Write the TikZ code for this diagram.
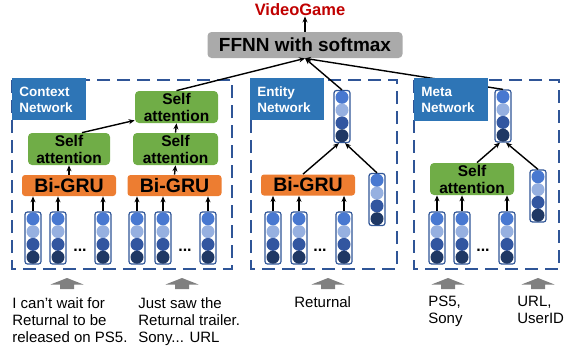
\documentclass[tikz,border=0pt]{standalone}
\usepackage{fontspec}
\setmainfont{Liberation Sans}
\usetikzlibrary{arrows.meta}

\definecolor{netblue}{RGB}{47,85,151}
\definecolor{labelblue}{RGB}{46,117,182}
\definecolor{gruorange}{RGB}{237,125,49}
\definecolor{attgreen}{RGB}{112,173,71}
\definecolor{ffnngray}{RGB}{170,170,170}
\definecolor{outred}{RGB}{192,0,0}
\definecolor{arrgray}{RGB}{128,128,128}
\definecolor{vtop}{RGB}{72,120,208}
\definecolor{vlight}{RGB}{150,176,224}
\definecolor{vmid}{RGB}{50,86,160}
\definecolor{vdark}{RGB}{31,56,100}

\tikzset{every picture/.style={line width=0.75pt}}
\tikzset{
  netbox/.style={draw=netblue, line width=2pt, dash pattern=on 13pt off 7pt},
  netlabel/.style={fill=labelblue, text=white, anchor=north west, align=left,
    font=\fontsize{13.5}{16}\selectfont\bfseries, text width=60pt,
    inner xsep=7pt, inner ysep=0pt, minimum height=42pt},
  grubox/.style={fill=gruorange, rounded corners=3pt, minimum width=94pt,
    minimum height=21pt, inner sep=0pt, font=\fontsize{19.5}{20}\selectfont\bfseries},
  attbox/.style={fill=attgreen, rounded corners=4pt, minimum width=83pt,
    minimum height=32pt, inner sep=0pt, align=center,
    font=\fontsize{15.5}{17}\selectfont\bfseries},
  vecbox/.style={draw=netblue, line width=1.2pt, fill=white, rounded corners=2.5pt,
    minimum width=16pt, minimum height=52pt, inner sep=0pt},
  dots/.style={font=\fontsize{16}{16}\selectfont\bfseries, inner sep=0pt},
  intext/.style={anchor=north west, align=left, inner sep=0pt,
    font=\fontsize{15}{17}\selectfont},
  arr/.style={-{Stealth[length=6pt,width=5pt]}, line width=1.4pt},
}

% embedding vector: name, x, y
\newcommand{\embvec}[3]{%
  \node[vecbox] (#1) at (#2,#3) {};
  \foreach \dy/\cc in {-19.2/vtop,-6.4/vlight,6.4/vmid,19.2/vdark}
    \fill[\cc] (#2,{#3+\dy}) circle (6.5pt);
}
% gray input arrow: name, x
\newcommand{\inarrow}[2]{%
  \coordinate (#1) at (#2,278);
  \fill[arrgray] (#1) -- ++(16.5,6.5) -- ++(-9.5,0) -- ++(0,4.5) -- ++(-14,0)
    -- ++(0,-4.5) -- ++(-9.5,0) -- cycle;
}

\begin{document}
\begin{tikzpicture}[x=1pt,y=-1pt]
\useasboundingbox (0,0) rectangle (580,351);

%Network frames
\draw[netbox] (12,80) rectangle (232,269);
\draw[netbox] (251,80) rectangle (397,269);
\draw[netbox] (414,80) rectangle (559,269);

%Output
\node[fill=ffnngray, rounded corners=4pt, minimum width=195pt, minimum height=26pt,
  inner sep=0pt, font=\fontsize{19}{20}\selectfont\bfseries] (ffnn) at (305,45) {FFNN with softmax};
\node[text=outred, inner sep=0pt, font=\fontsize{16.5}{18}\selectfont\bfseries] (vg) at (300,10) {VideoGame};
\draw[arr] (ffnn.north) -- (ffnn.north |- vg.south);

%Context network
\embvec{ca}{33}{238}
\embvec{cb}{58}{238}
\embvec{cc}{103}{238}
\embvec{cd}{137}{238}
\embvec{ce}{163}{238}
\embvec{cf}{208}{238}
\node[dots] (cdots1) at (80,250) {...};
\node[dots] (cdots2) at (185,250) {...};
\node[grubox] (gru1) at (69,185.5) {Bi-GRU};
\node[grubox] (gru2) at (174.5,185.5) {Bi-GRU};
\node[attbox, minimum width=82pt] (sa1) at (69,149) {Self\\attention};
\node[attbox, minimum width=85pt] (sa2) at (175.5,149) {Self\\attention};
\node[attbox] (sa3) at (176.5,107) {Self\\attention};
\foreach \v/\g in {ca/gru1,cb/gru1,cc/gru1,cd/gru2,ce/gru2,cf/gru2}
  \draw[arr] (\v.north) -- (\v.north |- \g.south);
\draw[arr] (gru1.north) -- (sa1.south);
\draw[arr] (gru2.north) -- (sa2.south);
\draw[arr] (sa2.north) -- (sa3.south);
\draw[arr] ([xshift=13pt]sa1.north) -- ([yshift=3pt]sa3.south west);

%Entity network
\embvec{ea}{273}{238}
\embvec{eb}{299}{238}
\embvec{ec}{344}{238}
\node[dots] (edots) at (320,250) {...};
\node[grubox] (gru3) at (308,185) {Bi-GRU};
\embvec{es}{377}{199.5}
\embvec{et}{342}{116.5}
\foreach \v in {ea,eb,ec}
  \draw[arr] (\v.north) -- (\v.north |- gru3.south);
\draw[arr] ([xshift=-5pt]gru3.north) -- ([xshift=-3pt]et.south);
\draw[arr] (es.north) -- ([xshift=3pt]et.south);

%Meta network
\embvec{ma}{437}{238}
\embvec{mb}{462}{238}
\embvec{mc}{507}{238}
\node[dots] (mdots) at (483,250) {...};
\node[attbox, minimum width=84pt] (sa4) at (472,179) {Self\\attention};
\embvec{ms}{538}{196}
\embvec{mt}{503}{116}
\foreach \v in {ma,mb,mc}
  \draw[arr] (\v.north) -- (\v.north |- sa4.south);
\draw[arr] ([xshift=5pt]sa4.north) -- ([xshift=-3pt]mt.south);
\draw[arr] (ms.north) -- ([xshift=3pt]mt.south);

%To the classifier
\draw[arr] (sa3.north) -- (ffnn.south);
\draw[arr] (et.north) -- (ffnn.south);
\draw[arr] (mt.north) -- (ffnn.south);

%Labels
\node[netlabel] (ctxlab) at (12,78) {Context\\Network};
\node[netlabel] (entlab) at (250,78) {Entity\\Network};
\node[netlabel, minimum height=43pt] (metalab) at (414,78) {Meta\\Network};

%Inputs
\inarrow{ia}{67}
\inarrow{ib}{182}
\inarrow{ic}{328}
\inarrow{id}{448}
\inarrow{ie}{538}
\node[intext] (txa) at (12,297) {I can't wait for\\Returnal to be\\released on PS5.};
\node[intext] (txb) at (138,297) {Just saw the\\Returnal trailer.\\Sony... URL};
\node[intext] (txc) at (294,296) {Returnal};
\node[intext] (txd) at (428,296) {PS5,\\Sony};
\node[intext] (txe) at (517,296) {URL,\\UserID};
\end{tikzpicture}
\end{document}
